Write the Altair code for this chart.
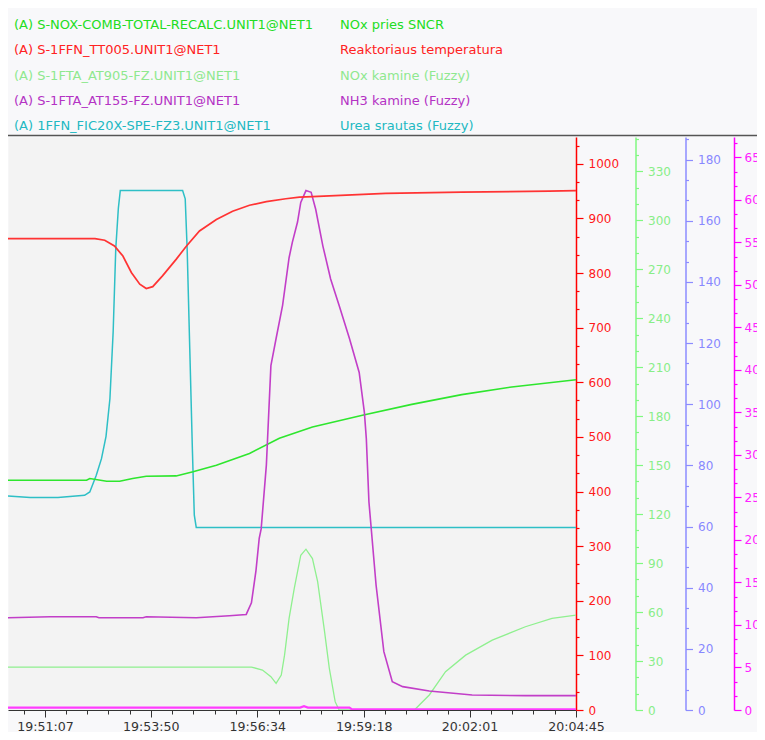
import altair as alt
import pandas as pd
import numpy as np

# ---------------- data ----------------
X_START, X_END = "19:50:10", "20:04:45"
X_LABELS = ["19:51:07", "19:53:50", "19:56:34", "19:59:18", "20:02:01", "20:04:45"]

TAGS = [
    "(A) S-NOX-COMB-TOTAL-RECALC.UNIT1@NET1",
    "(A) S-1FFN_TT005.UNIT1@NET1",
    "(A) S-1FTA_AT905-FZ.UNIT1@NET1",
    "(A) S-1FTA_AT155-FZ.UNIT1@NET1",
    "(A) 1FFN_FIC20X-SPE-FZ3.UNIT1@NET1",
]
DESCS = [
    "NOx pries SNCR",
    "Reaktoriaus temperatura",
    "NOx kamine (Fuzzy)",
    "NH3 kamine (Fuzzy)",
    "Urea srautas (Fuzzy)",
]
TEXT_COLORS = ["#22dd22", "#ff2222", "#8fe88f", "#b433c4", "#22b8c2"]

# Reaktoriaus temperatura (red axis)
TEMP_T = ["19:50:10", "19:52:24", "19:52:39", "19:52:54", "19:53:07", "19:53:20",
          "19:53:33", "19:53:43", "19:53:53", "19:54:08", "19:54:29", "19:54:45",
          "19:55:05", "19:55:31", "19:55:56", "19:56:22", "19:56:48", "19:57:18",
          "19:57:39", "19:57:59", "19:59:52", "20:01:49", "20:04:03", "20:04:45"]
TEMP_V = [863, 863, 860, 849.5, 831, 801, 779.5, 771.6, 775, 794.7, 825, 849.5,
          877, 898, 913, 924, 930.6, 936, 939, 940, 945.7, 948, 950, 951]

# Urea srautas (blue axis)
UREA_T = ["19:50:10", "19:50:44", "19:51:27", "19:52:08", "19:52:16", "19:52:26",
          "19:52:34", "19:52:41", "19:52:47", "19:52:52", "19:52:56", "19:53:00",
          "19:53:03", "19:54:39", "19:54:43", "19:54:46", "19:54:50", "19:54:54",
          "19:54:57", "19:55:00", "20:04:45"]
UREA_V = [70.0, 69.5, 69.5, 70.2, 71.3, 76.8, 82.2, 89.5, 101.8, 123.7, 150.8, 164.1,
          169.9, 169.9, 167.2, 150.8, 118.2, 85.5, 63.7, 59.7, 59.7]

# NOx pries SNCR (green axis)
NOXIN_T = ["19:50:10", "19:52:11", "19:52:16", "19:52:42", "19:53:02", "19:53:22",
           "19:53:43", "19:54:29", "19:54:55", "19:55:31", "19:56:22", "19:57:08",
           "19:57:59", "19:59:16", "20:00:32", "20:01:49", "20:03:06", "20:04:45"]
NOXIN_V = [140.7, 140.7, 141.8, 140.1, 140.1, 141.8, 143.2, 143.4, 145.9, 149.9,
           157.1, 166.5, 173.4, 180.5, 187.2, 193.2, 197.9, 202.3]

# NOx kamine (green axis)
NOXOUT_T = ["19:50:10", "19:56:25", "19:56:42", "19:56:55", "19:57:03", "19:57:11",
            "19:57:16", "19:57:23", "19:57:31", "19:57:41", "19:57:49", "19:57:59",
            "19:58:07", "19:58:17", "19:58:25", "19:58:34", "19:58:40", "20:00:36",
            "20:00:59", "20:01:24", "20:01:55", "20:02:36", "20:03:27", "20:04:08",
            "20:04:45"]
NOXOUT_V = [26.3, 26.3, 24.5, 20.4, 16.3, 21.4, 33.6, 56.1, 74.5, 94.8, 98.5, 92.8,
            78.6, 50.0, 25.5, 5.1, 0, 0, 9.2, 23.5, 33.6, 42.8, 51.0, 56.1, 58.1]

# NH3 kamine (magenta axis)
NH3_T = ["19:50:10", "19:51:15", "19:52:26", "19:52:30", "19:53:38", "19:53:43",
         "19:55:00", "19:55:51", "19:56:17", "19:56:25", "19:56:32", "19:56:37",
         "19:56:40", "19:56:48", "19:56:55", "19:57:03", "19:57:13", "19:57:23",
         "19:57:28", "19:57:36", "19:57:41", "19:57:49", "19:57:57", "19:58:04",
         "19:58:15", "19:58:27", "19:58:40", "19:58:56", "19:59:11", "19:59:19",
         "19:59:22", "19:59:26", "19:59:37", "19:59:49", "20:00:02", "20:00:18",
         "20:00:59", "20:02:05", "20:03:27", "20:04:45"]
NH3_V = [10.85, 10.97, 10.97, 10.85, 10.85, 10.97, 10.85, 11.09, 11.24, 12.6, 16.4,
         20.2, 21.3, 28.8, 40.5, 43.7, 47.6, 53.2, 55.0, 57.4, 59.7, 61.1, 60.9, 58.9,
         54.6, 50.7, 47.6, 43.7, 39.7, 35.0, 31.9, 24.5, 14.7, 6.86, 3.34, 2.75,
         2.23, 1.76, 1.69, 1.69]

# low magenta trace (magenta axis)
LOW_T = ["19:50:10", "19:57:40", "19:57:46", "19:57:52", "19:58:56", "19:59:00", "20:04:45"]
LOW_V = [0.28, 0.28, 0.45, 0.28, 0.28, 0.08, 0.08]

# ---------------- helpers ----------------
def sec(s):
    h, m, r = s.split(":")
    return int(h) * 3600 + int(m) * 60 + float(r)


def frame(ts, vs):
    return pd.DataFrame({"t": [sec(t) for t in ts], "v": vs})


FONT = "DejaVu Sans"
XS = alt.Scale(domain=[sec(X_START), sec(X_END)], nice=False, zero=False)

major_x = [sec(s) for s in X_LABELS]
minor_x = []
step0 = (major_x[1] - major_x[0]) / 5
v = major_x[0] - step0
while v > sec(X_START):
    minor_x.append(v)
    v -= step0
for a, b in zip(major_x[:-1], major_x[1:]):
    minor_x += list(np.linspace(a, b, 6)[1:-1])

AXES = {
    "red": dict(domain=[0, 1049], major=list(range(0, 1001, 100)), step=100 / 3,
                offset=0, pad=5, color="#ff0000", label="#ff1a1a"),
    "green": dict(domain=[0, 351], major=list(range(0, 331, 30)), step=10,
                  offset=59.5, pad=5, color="#80f880", label="#88ee88"),
    "blue": dict(domain=[0, 187.4], major=list(range(0, 181, 20)), step=20 / 3,
                 offset=109.5, pad=5, color="#8c8cff", label="#8888ff"),
    "mag": dict(domain=[0, 67.4], major=list(range(0, 66, 5)), step=5 / 3,
                offset=158, pad=3, color="#ff00ff", label="#ff22ff"),
}


def yscale(key):
    return alt.Scale(domain=AXES[key]["domain"], nice=False, zero=False)


def major_axis(key):
    a = AXES[key]
    return alt.Axis(orient="right", offset=a["offset"], values=a["major"], format="d",
                    tickSize=7, tickWidth=1.2, domainColor=a["color"], domainWidth=1.5,
                    tickColor=a["color"], labelColor=a["label"], labelFont=FONT,
                    labelFontSize=12, labelPadding=a["pad"], labelOverlap=False,
                    grid=False, title=None)


def minor_axis(key):
    a = AXES[key]
    vals = [float(x) for x in np.arange(0, a["domain"][1], a["step"])]
    vals = [x for x in vals if min(abs(x - m) for m in a["major"]) > 1e-6]
    return alt.Axis(orient="right", offset=a["offset"], values=vals, tickSize=3,
                    tickWidth=1.2, tickColor=a["color"], labels=False, domain=False,
                    grid=False, title=None)


def line(df, color, key, width=1.5, yaxis=None, xaxis=None, opacity=1.0):
    return alt.Chart(df).mark_line(color=color, strokeWidth=width, opacity=opacity,
                                   clip=True).encode(
        x=alt.X("t:Q", scale=XS, axis=xaxis),
        y=alt.Y("v:Q", scale=yscale(key), axis=yaxis),
    )


x_major_axis = alt.Axis(orient="bottom", values=major_x, tickSize=7, tickColor="#333333",
                        domainColor="#333333", labelColor="#333333", labelFont=FONT,
                        labelFontSize=12.6, labelPadding=3, labelFlush=False,
                        labelOverlap=False, grid=False, title=None,
                        labelExpr="utcFormat(datum.value * 1000, '%H:%M:%S')")
x_minor_axis = alt.Axis(orient="bottom", values=minor_x, tickSize=4, tickColor="#333333",
                        labels=False, domain=False, grid=False, title=None)

temp = frame(TEMP_T, TEMP_V)
urea = frame(UREA_T, UREA_V)
noxin = frame(NOXIN_T, NOXIN_V)
noxout = frame(NOXOUT_T, NOXOUT_V)
nh3 = frame(NH3_T, NH3_V)
low = frame(LOW_T, LOW_V)

layers = [
    # invisible carriers for the minor ticks
    line(temp, "#ff0000", "red", yaxis=minor_axis("red"), xaxis=x_minor_axis, opacity=0),
    line(noxin, "#00ff00", "green", yaxis=minor_axis("green"), opacity=0),
    line(urea, "#0000ff", "blue", yaxis=minor_axis("blue"), opacity=0),
    line(nh3, "#ff00ff", "mag", yaxis=minor_axis("mag"), opacity=0),
    # visible series
    line(urea, "#2ebfc6", "blue", 1.5, yaxis=major_axis("blue")),
    line(noxout, "#8ff08f", "green", 1.3, yaxis=major_axis("green")),
    line(noxin, "#2ee62e", "green", 1.6),
    line(nh3, "#c23ec8", "mag", 1.6, yaxis=major_axis("mag")),
    line(temp, "#ff3333", "red", 1.7, yaxis=major_axis("red"), xaxis=x_major_axis),
    line(low, "#ff3cff", "mag", 2.2),
]

leg = pd.DataFrame({"row": list(range(len(TAGS))), "tag": TAGS, "desc": DESCS})
leg_y = alt.Y("row:Q", scale=alt.Scale(domain=[0, 4], range=[-112, -11]), axis=None)
leg_c = alt.Color("tag:N", scale=alt.Scale(domain=TAGS, range=TEXT_COLORS), legend=None)
legend_tags = alt.Chart(leg).mark_text(align="left", baseline="middle", font=FONT,
                                       fontSize=13).encode(
    x=alt.value(6), y=leg_y, text="tag:N", color=leg_c)
legend_desc = alt.Chart(leg).mark_text(align="left", baseline="middle", font=FONT,
                                       fontSize=13).encode(
    x=alt.value(332), y=leg_y, text="desc:N", color=leg_c)

sep = alt.Chart(pd.DataFrame({"a": [0]})).mark_rule(color="#555555", strokeWidth=1.5).encode(
    x=alt.value(-8), x2=alt.value(760), y=alt.value(-1.5))

chart = alt.layer(*layers, legend_tags, legend_desc, sep).resolve_scale(
    x="independent", y="independent", color="independent"
).properties(
    width=568, height=573,
    autosize=alt.AutoSizeParams(type="none"),
    padding={"left": 0, "top": 129, "right": 181, "bottom": 22},
    background="#f8f8fa",
).configure_view(fill="#f3f3f3", stroke="transparent")

chart.save("out.html", embed_options={"renderer": "svg", "actions": False})
